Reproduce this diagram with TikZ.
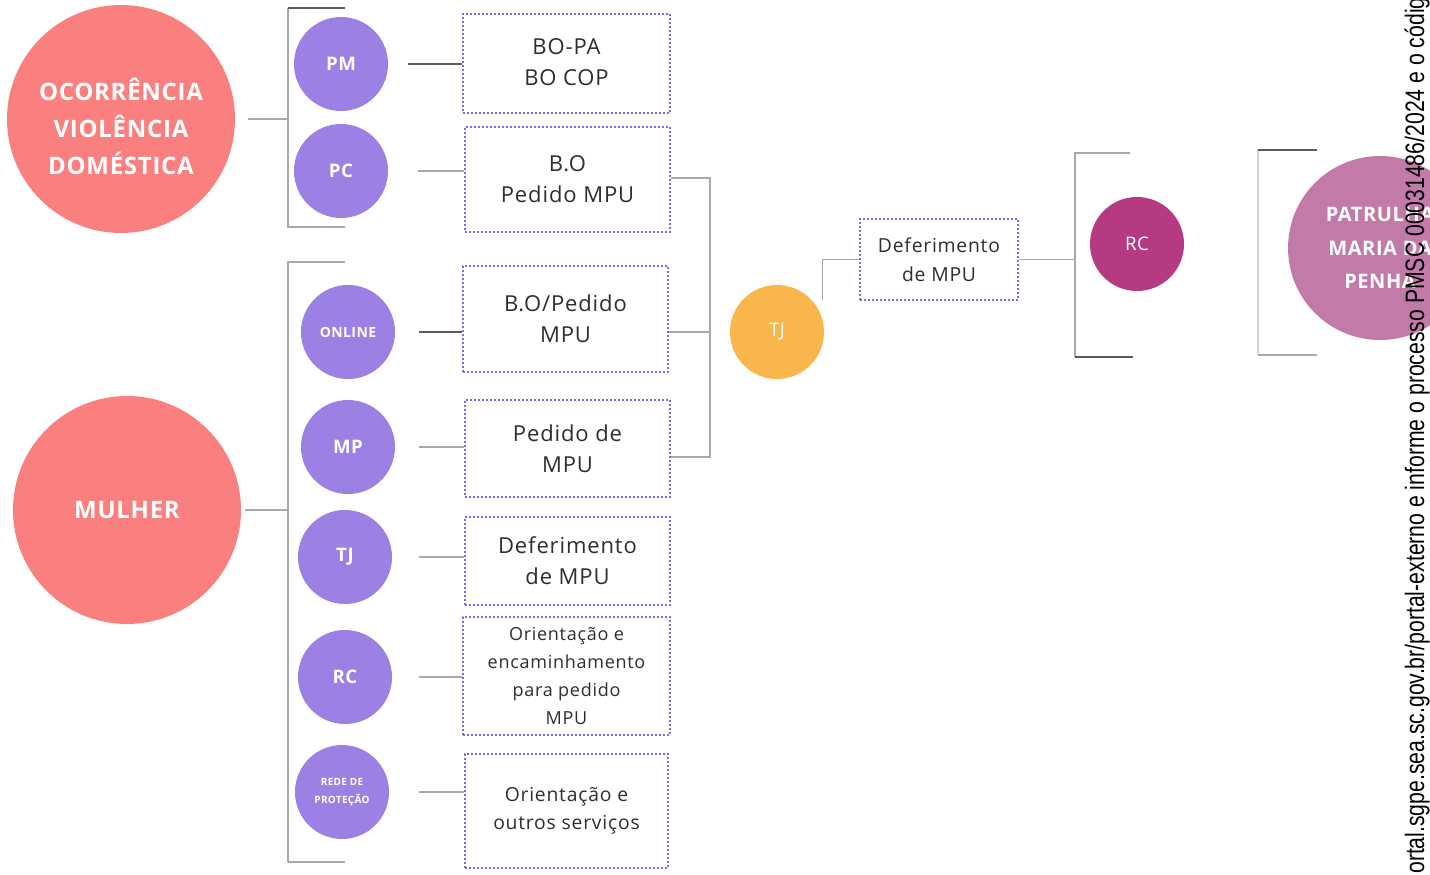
\documentclass[tikz,border=0pt]{standalone}
\usepackage{fontspec}
\setmainfont{Open Sans}
\newfontfamily\boxfont{Open Sans}[LetterSpace=4]
\newfontfamily\labfont{Open Sans}[LetterSpace=3]
\newfontfamily\wmfont{Liberation Sans}
\usetikzlibrary{calc}
\definecolor{salmon}{HTML}{F9807E}
\definecolor{lilac}{HTML}{9C80E3}
\definecolor{orangec}{HTML}{F8B64C}
\definecolor{magc}{HTML}{B53A82}
\definecolor{mauve}{HTML}{C27AA8}
\definecolor{boxc}{HTML}{7F68E6}
\definecolor{txtc}{HTML}{2E2E2E}
\definecolor{linec}{HTML}{A8A8A8}
\definecolor{darkline}{HTML}{5A5A5A}
\tikzset{
  bigc/.style={circle, fill=salmon, minimum size=171pt, inner sep=0pt, text=white, align=center,
    font=\labfont\bfseries\fontsize{18}{27.75}\selectfont},
  biglab/.style={text=white, align=center, inner sep=0pt,
    font=\labfont\bfseries\fontsize{18}{27.75}\selectfont},
  smallc/.style={circle, fill=lilac, minimum size=70.5pt, inner sep=0pt, text=white, align=center,
    font=\labfont\bfseries\fontsize{14}{18}\selectfont},
  dbox/.style={draw=boxc, dash pattern=on 1.3pt off 1.7pt, line width=1.8pt, inner sep=0pt,
    align=center, text=txtc, font=\boxfont\fontsize{16.5}{23.25}\selectfont},
  conn/.style={draw=linec, line width=1.1pt},
  dconn/.style={draw=darkline, line width=1.1pt},
}
\begin{document}
\begin{tikzpicture}[x=0.75pt,y=-0.75pt]
\useasboundingbox (0,0) rectangle (1430,874);
\clip (0,0) rectangle (1430,874);
\fill[white] (0,0) rectangle (1430,874);

% big circles
\node[bigc, label={[biglab, yshift=-5.5pt]center:OCORRÊNCIA\\VIOLÊNCIA\\DOMÉSTICA}] (occ) at (121,119) {};
\node[bigc] (mul) at (127,510) {MULHER};

% bracket coordinates
\coordinate (br1t) at (288,8);
\coordinate (br1b) at (288,227);
\coordinate (br2t) at (288,262);
\coordinate (br2b) at (288,862);

% small circles
\node[smallc] (pm) at (341,64) {PM};
\node[smallc] (pc) at (341,171) {PC};
\node[smallc, font=\labfont\bfseries\fontsize{10.5}{13}\selectfont] (onl) at (348,332) {ONLINE};
\node[smallc] (mp) at (348,447) {MP};
\node[smallc] (tjl) at (345,557) {TJ};
\node[smallc] (rcl) at (345,677) {RC};
\node[smallc, font=\labfont\bfseries\fontsize{7.5}{13}\selectfont] (rede) at (342,792) {REDE DE\\PROTEÇÃO};

% boxes
\node[dbox, minimum width=155.25pt, minimum height=74.25pt] (b1) at (566.5,63.5) {\raisebox{4.5pt}{\begin{tabular}{@{}c@{}}BO-PA\\BO COP\end{tabular}}};
\node[dbox, minimum width=153.75pt, minimum height=78.75pt] (b2) at (567.5,179.5) {B.O\\Pedido MPU};
\node[dbox, minimum width=153.75pt, minimum height=79.5pt] (b3) at (565.5,319) {B.O/Pedido\\MPU};
\node[dbox, minimum width=153.75pt, minimum height=72.75pt] (b4) at (567.5,448.5) {Pedido de\\MPU};
\node[dbox, minimum width=153.75pt, minimum height=66pt] (b5) at (567.5,561) {Deferimento\\de MPU};
\node[dbox, minimum width=155.25pt, minimum height=88.5pt, font=\boxfont\fontsize{13.5}{21}\selectfont] (b6) at (566.5,676) {Orientação e\\encaminhamento\\para pedido\\MPU};
\node[dbox, minimum width=152.25pt, minimum height=85.5pt, font=\boxfont\fontsize{14.5}{21}\selectfont] (b7) at (566.5,811) {Orientação e\\outros serviços};

% TJ, deferimento, RC, Patrulha
\node[smallc, fill=orangec, font=\labfont\fontsize{14}{18}\selectfont] (tj) at (777,332) {TJ};
\node[dbox, minimum width=118.5pt, minimum height=60.75pt, font=\boxfont\fontsize{14.5}{21.75}\selectfont] (def) at (939,259.5) {Deferimento\\de MPU};
\node[smallc, fill=magc, font=\labfont\fontsize{14}{18}\selectfont] (rc) at (1137,244) {RC};
\node[circle, fill=mauve, minimum size=138pt, inner sep=0pt, text=white, align=center,
  font=\labfont\bfseries\fontsize{15}{25}\selectfont] (pat) at (1380,248) {PATRULHA\\MARIA DA\\PENHA};

% connectors: left brackets
\draw[conn, shorten <=9.75pt] (occ.east) -- (occ.east -| br1t);
\draw[conn] (br1t) -- (br1b) -- ++(57,0);
\draw[dconn] (br1t) -- ++(57,0);
\draw[conn, shorten <=3pt] (mul.east) -- (mul.east -| br2t);
\draw[conn] (br2b) -- (br2t) -- ++(57,0);
\draw[conn] (br2b) -- ++(57,0);

% circle to box connectors
\draw[dconn, shorten <=15pt] (pm.east) -- (pm.east -| b1.west);
\draw[conn, shorten <=22pt] (pc.east) -- (pc.east -| b2.west);
\draw[dconn, shorten <=18pt] (onl.east) -- (onl.east -| b3.west);
\draw[conn, shorten <=18pt] (mp.east) -- (mp.east -| b4.west);
\draw[conn, shorten <=20pt] (tjl.east) -- (tjl.east -| b5.west);
\draw[conn, shorten <=20pt] (rcl.east) -- (rcl.east -| b6.west);
\draw[conn, shorten <=22pt] (rede.east) -- (rede.east -| b7.west);

% right junction to TJ
\coordinate (jt) at (710,178);
\coordinate (jb) at (710,457);
\draw[conn] (b2.east |- jt) -- (jt) -- (jb) -- (b4.east |- jb);
\draw[conn, shorten >=15pt] (b3.east |- tj.west) -- (tj.west);
\draw[conn] ($(tj.east)+(-2,-32)$) |- (def.west);

% right brackets
\coordinate (br3t) at (1075,153);
\coordinate (br3b) at (1075,357);
\draw[conn] (def.east) -- (def.east -| br3t);
\draw[conn] (br3b) -- (br3t) -- ++(55,0);
\draw[dconn, line width=1.4pt] (br3b) -- ++(58,0);
\coordinate (br4t) at (1258,150);
\coordinate (br4b) at (1258,355);
\draw[linec!50, line width=1.1pt] (br4t) -- (br4b);
\draw[conn] (br4b) -- ++(59,0);
\draw[dconn, line width=1.4pt] (br4t) -- ++(59,0);

% watermark
\node[rotate=90, anchor=base west, inner sep=0pt, text=black, font=\wmfont\fontsize{20}{24}\selectfont] (wm) at (1424,874)
  {\scalebox{0.795}[1]{ortal.sgpe.sea.sc.gov.br/portal-externo e informe o processo PMSC 00031486/2024 e o códig}};
\end{tikzpicture}
\end{document}
